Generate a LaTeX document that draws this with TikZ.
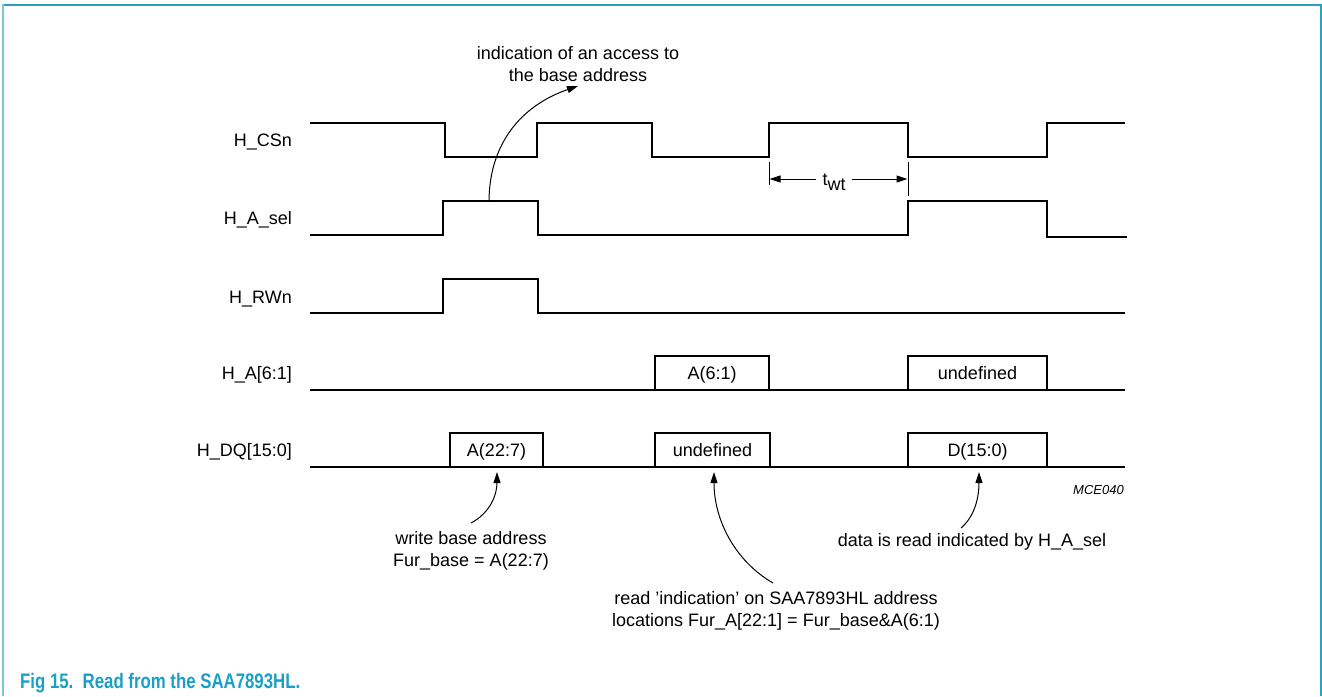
\documentclass[tikz,border=0pt]{standalone}
\usepackage{fontspec}
\setmainfont{Liberation Sans}
\usetikzlibrary{arrows.meta}
\definecolor{frameblue}{HTML}{2AA0C2}
\definecolor{frameleft}{HTML}{7CC6DC}
\definecolor{captblue}{HTML}{1A9FC6}
\begin{document}
\begin{tikzpicture}[x=1pt,y=-1pt,
  sig/.style={line width=2.6pt, line join=miter},
  tickline/.style={line width=1pt},
  ann/.style={line width=1pt,-{Triangle[length=11pt,width=7pt]}},
  txt/.style={inner sep=0pt, font=\fontsize{18}{22}\selectfont, text=black},
  lab/.style={txt, anchor=base east},
  boxtxt/.style={txt, anchor=base},
]
\useasboundingbox (0,0) rectangle (1322,696);
% frame
\draw[frameblue, line width=2pt] (3,5) -- (1321,5) -- (1321,696);
\draw[frameleft, line width=2pt] (3,4) -- (3,696);

% signal labels
\node[lab] (lcs)  at (292,146.5) {H\_CSn};
\node[lab] (lsel) at (292,224.5) {H\_A\_sel};
\node[lab] (lrw)  at (292,303)   {H\_RWn};
\node[lab] (lha)  at (292,379.5) {H\_A[6:1]};
\node[lab] (ldq)  at (292,456.5) {H\_DQ[15:0]};

% H_CSn
\draw[sig] (310,123) -- (445,123) -- (445,157) -- (537,157) -- (537,123) -- (652,123) -- (652,157)
  -- (769,157) -- (769,123) -- (908,123) -- (908,157) -- (1047,157) -- (1047,123) -- (1125,123);
% H_A_sel
\draw[sig] (310,235) -- (443,235) -- (443,201) -- (538,201) -- (538,235) -- (908,235) -- (908,201)
  -- (1047,201) -- (1047,237) -- (1127,237);
% H_RWn
\draw[sig] (310,313) -- (443,313) -- (443,279) -- (538,279) -- (538,313) -- (1125,313);
% H_A[6:1]
\draw[sig] (310,390) -- (1125,390);
\draw[sig] (655,390) -- (655,356) -- (769,356) -- (769,390);
\draw[sig] (908,390) -- (908,356) -- (1047,356) -- (1047,390);
% H_DQ[15:0]
\draw[sig] (310,467) -- (1125,467);
\draw[sig] (450,467) -- (450,433) -- (543,433) -- (543,467);
\draw[sig] (655,467) -- (655,433) -- (770,433) -- (770,467);
\draw[sig] (908,467) -- (908,433) -- (1047,433) -- (1047,467);

% box texts
\node[boxtxt] (ha1) at (712,379.5) {A(6:1)};
\node[boxtxt] (ha2) at (977.5,379.5) {undefined};
\node[boxtxt] (dq1) at (496.5,456.5) {A(22:7)};
\node[boxtxt] (dq2) at (712.5,456.5) {undefined};
\node[boxtxt] (dq3) at (977.5,456.5) {D(15:0)};

% t_wt
\coordinate (tl1) at (769,162); \coordinate (tl2) at (769,185);
\coordinate (tr1) at (908,162); \coordinate (tr2) at (908,196);
\draw[tickline] (tl1) -- (tl2);
\draw[tickline] (tr1) -- (tr2);
\node[txt, anchor=base] (twt) at (834,185) {t\raisebox{-5pt}{wt}};
\coordinate (twl) at (769.5,179); \coordinate (twr) at (907.5,179);
\draw[ann] (twt.west |- twl) ++(-6,0) -- (twl);
\draw[ann] (twt.east |- twr) ++(6,0) -- (twr);

% annotations
\node[txt, align=center] (topnote) at (578,64) {indication of an access to\\the base address};
\coordinate (a1s) at (489,202);
\coordinate (a1e) at (578,86);
\draw[ann] (a1s) .. controls (489,145) and (520,106) .. (a1e);

\node[txt, align=center] (wba) at (471,551) {write base address\\Fur\_base = A(22:7)};
\coordinate (a2s) at (471,523);
\coordinate (a2e) at (497,472);
\draw[ann] (a2s) .. controls (490,513) and (497,495) .. (a2e);

\node[txt, align=center] (rdi) at (776,611) {read ’indication’ on SAA7893HL address\\locations Fur\_A[22:1] = Fur\_base\&A(6:1)};
\coordinate (a3s) at (773,583);
\coordinate (a3e) at (714,472);
\draw[ann] (a3s) .. controls (735,561) and (714,520) .. (a3e);

\node[txt] (drd) at (972,542) {data is read indicated by H\_A\_sel};
\coordinate (a4s) at (961,528);
\coordinate (a4e) at (979,472);
\draw[ann] (a4s) .. controls (975,516) and (979,497) .. (a4e);

\node[inner sep=0pt, anchor=base east, font=\fontsize{13}{15}\selectfont\itshape] (mce) at (1124,494) {MCE040};

% caption
\node[inner sep=0pt, anchor=base west, text=captblue, font=\fontsize{21}{24}\selectfont\bfseries] (cap) at (20,688) {\scalebox{0.8}[1]{Fig 15.\ \ Read from the SAA7893HL.}};
\end{tikzpicture}
\end{document}
